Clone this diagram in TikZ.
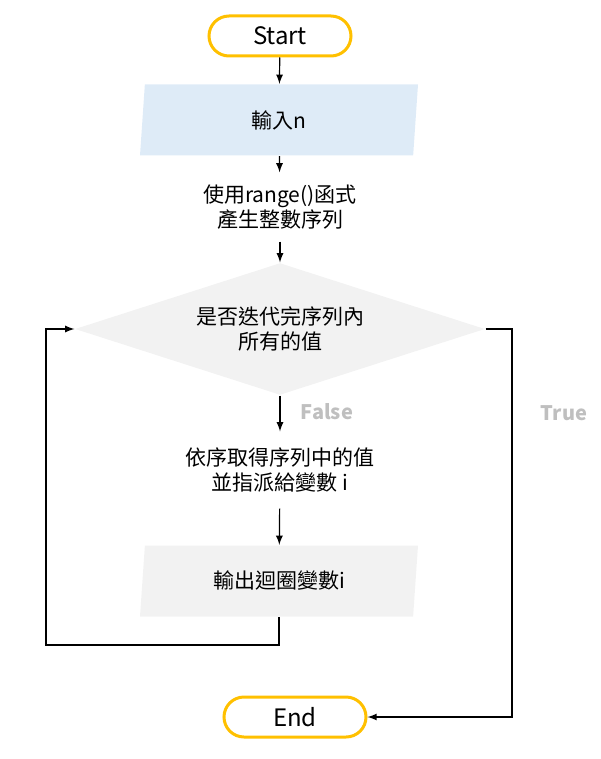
\documentclass[tikz,border=0pt]{standalone}
\usepackage{fontspec}
\setmainfont{Noto Sans CJK TC}
\usepackage{tikz}
\usetikzlibrary{shapes}
\usetikzlibrary{arrows}
\usetikzlibrary{positioning}
\definecolor{startyellow}{HTML}{FFC000}
\definecolor{inblue}{HTML}{DEEBF7}
\definecolor{boxgray}{HTML}{F2F2F2}
\definecolor{labelgray}{HTML}{BFBFBF}

\begin{document}
\begin{tikzpicture}
        [x=0.5pt, y=-0.5pt, >=latex, line width=0.6pt,
         terminal/.style={rounded rectangle, draw=startyellow, line width=1.5pt,
                          minimum width=71pt, minimum height=20pt, inner sep=0pt,
                          font=\fontsize{12}{14}\selectfont},
         io/.style={trapezium, trapezium left angle=76, trapezium right angle=104,
                    trapezium stretches body, minimum width=139pt, minimum height=35.5pt,
                    inner sep=0pt, font=\fontsize{10.5}{12.75}\selectfont},
         process/.style={align=center, minimum width=100pt, inner sep=0pt,
                         font=\fontsize{10.5}{12.75}\selectfont},
         decision/.style={diamond, aspect=3.1, fill=boxgray, align=center,
                          minimum width=205pt, minimum height=66pt, inner sep=0pt,
                          font=\fontsize{10.5}{12.75}\selectfont},
         branch/.style={text=labelgray, font=\fontsize{10}{12}\selectfont\bfseries}]
        \useasboundingbox (0,0) rectangle (600,759);

        \node [terminal] (start) at (280,36) {Start};
        \node [io, fill=inblue] (input) at (279,120) {輸入n};
        \node [process, minimum height=34pt] (range) at (280,207) {使用range()函式\\產生整數序列};
        \node [decision] (cond) at (280,329) {是否迭代完序列內\\所有的值};
        \node [process, minimum height=38pt] (assign) at (280,470) {依序取得序列中的值\\並指派給變數 i};
        \node [io, fill=boxgray] (output) at (279,581) {輸出迴圈變數i};
        \node [terminal] (end) at (295,717) {End};

        \node [branch] (false) at (327,412) {False};
        \node [branch] (true) at (564,413) {True};

        \coordinate (loop) at (46,645);
        \coordinate (exit) at (512,717);

        \draw [->] (start) -- (input);
        \draw [->] (input) -- (range);
        \draw [->] (range) -- (cond);
        \draw [->] (cond) -- (assign);
        \draw [->] (assign) -- (output);
        \draw [->] (output.south) |- (loop) |- (cond.west);
        \draw [->] (cond.east) -| (exit) -- (end.east);
    \end{tikzpicture}
\end{document}
